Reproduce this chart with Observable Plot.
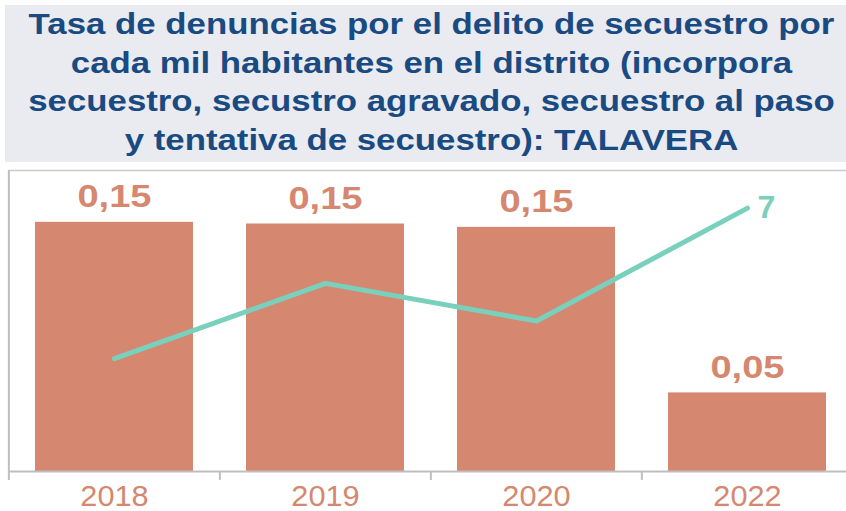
<!DOCTYPE html>
<html>
<head>
<meta charset="utf-8">
<script src="https://cdn.jsdelivr.net/npm/d3@7"></script>
<script src="https://cdn.jsdelivr.net/npm/@observablehq/plot@0.6"></script>
<style>
  html, body { margin: 0; padding: 0; background: #ffffff; width: 846px; height: 511px; overflow: hidden; }
  #titlebg { position: absolute; left: 5px; top: 5px; width: 841px; height: 157px; background: #E9EBF0; }
  #title {
    position: absolute; left: 11px; top: 5px; width: 841px;
    color: #1A4A82;
    font-family: "Liberation Sans", Arial, sans-serif; font-weight: bold;
    font-size: 29px; line-height: 38.5px; text-align: center;
  }
  #title .ln { white-space: nowrap; transform: scaleX(1.2); transform-origin: 50% 50%; }
  #chart { position: absolute; left: 0; top: 165px; }
</style>
</head>
<body>
<div id="titlebg"></div>
<div id="title">
  <div class="ln">Tasa de denuncias por el delito de secuestro por</div>
  <div class="ln">cada mil habitantes en el distrito (incorpora</div>
  <div class="ln">secuestro, secustro agravado, secuestro al paso</div>
  <div class="ln">y tentativa de secuestro): TALAVERA</div>
</div>
<div id="chart"></div>
<script>
// Data
const years = ["2018", "2019", "2020", "2022"];
const rates = [0.149, 0.148, 0.146, 0.047];      // tasa por mil habitantes (barras)
const counts = [3, 5, 4, 7];                     // denuncias (línea, eje secundario)
const rateAxisMax = 0.18;
const countAxisMax = 8;

const data = years.map((y, i) => ({year: y, rate: rates[i], count: counts[i]}));

const salmon = "#D6876F";
const teal = "#79D0BC";
const fmt = v => d3.format(".2f")(v).replace(".", ",");

const W = 846, H = 345, mTop = 5, mBottom = 39;
const xRange = [8, 853];
const step = (xRange[1] - xRange[0]) / years.length;
const innerH = H - mTop - mBottom;
const tickLen = 9 * rateAxisMax / innerH;
const toRate = c => c * rateAxisMax / countAxisMax;

const chart = Plot.plot({
  width: W, height: H,
  marginTop: mTop, marginBottom: mBottom, marginLeft: 8, marginRight: 0,
  style: {fontFamily: "'Liberation Sans', Arial, sans-serif", color: salmon, background: "transparent", overflow: "visible"},
  x: {domain: years, range: xRange, paddingInner: 0.25, paddingOuter: 0.125},
  y: {domain: [0, rateAxisMax], axis: null},
  marks: [
    Plot.barY(data, {x: "year", y: "rate", fill: salmon}),
    Plot.ruleY([rateAxisMax], {stroke: "#C9C9C9", strokeWidth: 1.5}),
    Plot.ruleY([0], {stroke: "#BFBFBF", strokeWidth: 2}),
    Plot.ruleX(data, {x: "year", y1: -tickLen, y2: (d, i) => i === 0 ? rateAxisMax : 0, dx: -step / 2, stroke: "#BFBFBF", strokeWidth: 2}),
    Plot.line(data, {x: "year", y: d => toRate(d.count), stroke: teal, strokeWidth: 5, strokeLinecap: "round", strokeLinejoin: "round"}),
    Plot.text(data, {x: "year", y: "rate", text: d => fmt(d.rate), fill: salmon, fontWeight: "bold", fontSize: 32, lineAnchor: "bottom", dy: -15}),
    Plot.text(data.slice(-1), {x: "year", y: d => toRate(d.count), text: d => String(d.count), fill: teal, fontWeight: "bold", fontSize: 32, textAnchor: "start", dx: 10}),
    Plot.axisX({tickSize: 0, tickPadding: 14, fontSize: 29, label: null})
  ]
});
document.getElementById("chart").appendChild(chart);

// Widen glyphs horizontally (about each text's own centre) to match the reference's proportions
function stretch(texts, s) {
  texts.forEach(t => {
    const b = t.getBBox();
    const cx = b.x + b.width / 2;
    const tr = t.getAttribute("transform") || "";
    t.setAttribute("transform", `${tr} translate(${cx},0) scale(${s},1) translate(${-cx},0)`);
  });
}
const textGroups = chart.querySelectorAll('g[aria-label="text"]');
if (textGroups.length) stretch(textGroups[0].querySelectorAll("text"), 1.19);
stretch(chart.querySelectorAll('g[aria-label="x-axis tick label"] text'), 1.06);
</script>
</body>
</html>
